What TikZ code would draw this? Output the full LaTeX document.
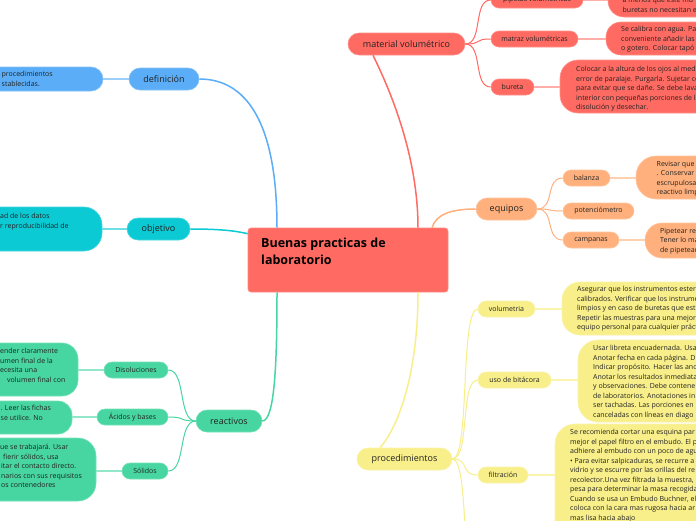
\documentclass[tikz,border=0pt]{standalone}
\usepackage{fontspec}
\setmainfont{Open Sans}
\definecolor{cred}{HTML}{FF6B63}
\definecolor{cblue}{HTML}{5AADF6}
\definecolor{cteal}{HTML}{0BCAD4}
\definecolor{cgreen}{HTML}{47D6A2}
\definecolor{cpeach}{HTML}{FFB07C}
\definecolor{cyel}{HTML}{F8EF8A}
\definecolor{txt}{HTML}{222222}
\tikzset{
  brn/.style={fill=#1, draw=#1!75!white, line width=0.6pt, rounded corners=11pt, minimum height=22pt, inner sep=0pt, font=\fontsize{9}{11}\selectfont, text=txt},
  sbn/.style={fill=#1, draw=#1!75!white, line width=0.6pt, rounded corners=8pt, minimum height=16pt, inner sep=0pt, font=\fontsize{7}{8}\selectfont, text=txt},
  lfn/.style={fill=#1, draw=#1!75!white, line width=0.6pt, inner sep=0pt},
  ltx/.style={anchor=north west, inner sep=0pt, align=left, font=\fontsize{7}{9.5}\selectfont, text=txt},
  mainc/.style={line width=1.5pt},
  subc/.style={line width=1pt},
  leafc/.style={line width=2pt},
}
\begin{document}
\begin{tikzpicture}[x=1pt,y=-1pt]
\useasboundingbox (0,0) rectangle (696,520);
\fill[white] (0,0) rectangle (696,520);
\clip (0,0) rectangle (696,520);

% central
\node[fill=cred, draw=cred!80!white, line width=0.6pt, rounded corners=3pt, minimum width=200pt, minimum height=64pt, inner sep=0pt] (ctr) at (348,260) {};
\node[anchor=north west, inner sep=0pt, align=left, font=\bfseries\fontsize{12.5}{17}\selectfont, text=black] (ttl) at (261,237.5) {Buenas practicas de\\laboratorio};

% branches
\node[brn=cblue, minimum width=70pt] (def) at (164,79) {definición};
\node[brn=cteal, minimum width=63pt] (obj) at (158.5,229) {objetivo};
\node[brn=cgreen, minimum width=66pt] (rea) at (229,421) {reactivos};
\node[sbn=cgreen, minimum width=64pt] (dis) at (136,370) {Disoluciones};
\node[sbn=cgreen, minimum width=71pt] (aci) at (132.5,417) {Ácidos y bases};
\node[sbn=cgreen, minimum width=46pt] (sol) at (145,471) {Sólidos};
\node[brn=cred, minimum width=117pt] (mat) at (406.5,44) {material volumétrico};
\node[sbn=cred, minimum width=92pt] (pip) at (537,0) {pipetas volumétricas};
\node[sbn=cred, minimum width=87pt] (mtz) at (534.5,39) {matraz volumétricas};
\node[sbn=cred, minimum width=43pt] (bur) at (512.5,87) {bureta};
\node[brn=cpeach, minimum width=61pt] (equ) at (506.5,209) {equipos};
\node[sbn=cpeach, minimum width=47pt] (bal) at (586.5,178) {balanza};
\node[sbn=cpeach, minimum width=71pt] (pot) at (598.5,211) {potenciómetro};
\node[sbn=cpeach, minimum width=56pt] (cam) at (591,240) {campanas};
\node[brn=cyel, minimum width=95pt] (pro) at (404.5,459) {procedimientos};
\node[sbn=cyel, minimum width=57pt] (vol) at (506.5,309) {volumetria};
\node[sbn=cyel, minimum width=73pt] (bit) at (514.5,380) {uso de bitácora};
\node[sbn=cyel, minimum width=50pt] (fil) at (503,475) {filtración};
\coordinate (proX) at (478,600);

% leaves
\node[lfn=cblue, rounded corners=12pt, minimum width=123pt, minimum height=24pt] (defL) at (41.5,79) {};
\node[ltx] (defT) at (1.5,71) {procedimientos\\stablecidas.};
\node[lfn=cteal, rounded corners=18pt, minimum width=122pt, minimum height=44pt] (objL) at (41,229) {};
\node[ltx] (objT) at (0,213) {ad de los datos\\r reproducibilidad de};
\node[lfn=cgreen, rounded corners=16pt, minimum width=98pt, minimum height=53pt] (disL) at (29,369.5) {};
\node[ltx] (disT) at (0,348) {ender claramente\\umen final de la\\ecesita una\\\hspace*{7pt}volumen final con};
\node[lfn=cgreen, rounded corners=14pt, minimum width=92pt, minimum height=33pt] (aciL) at (26,417.5) {};
\node[ltx] (aciT) at (0.5,405) {. Leer las fichas\\se utilice. No};
\node[lfn=cgreen, rounded corners=18pt, minimum width=116pt, minimum height=63pt] (solL) at (38,469.5) {};
\node[ltx] (solT) at (0,444) {ue se trabajará. Usar\\\hspace*{3pt}fierir sólidos, usa\\\hspace*{1pt}itar el contacto directo.\\\hspace*{1pt}narios con sus requisitos\\\hspace*{1pt}os contenedores};

\node[lfn=cred, rounded corners=16pt, minimum width=122pt, minimum height=47pt] (pipL) at (669,-6.5) {};
\node[ltx] (pipT) at (622.5,-2) {a menos que este mu\\buretas no necesitan e};
\node[lfn=cred, rounded corners=15pt, minimum width=124pt, minimum height=33pt] (mtzL) at (668,38.5) {};
\node[ltx] (mtzT) at (621,26) {Se calibra con agua. Pa\\conveniente añadir las\\o gotero. Colocar tapó};
\node[lfn=cred, rounded corners=18pt, minimum width=170pt, minimum height=53pt] (burL) at (645,86.5) {};
\node[ltx] (burT) at (576,66) {Colocar a la altura de los ojos al medi\\error de paralaje. Purgarla. Sujetar co\\para evitar que se dañe. Se debe lava\\interior con pequeñas porciones de la\\disolución y desechar.};

\node[lfn=cpeach, rounded corners=20pt, minimum width=94pt, minimum height=43pt] (balL) at (683,177.5) {};
\node[ltx] (balT) at (656.5,161) {Revisar que\\. Conservar\\escrupulosa\\reactivo limp};
\node[lfn=cpeach, rounded corners=17pt, minimum width=85pt, minimum height=35pt] (camL) at (687.5,240.5) {};
\node[ltx] (camT) at (660,228) {Pipetear re\\Tener lo ma\\de pipetear};

\node[lfn=cyel, rounded corners=18pt, minimum width=168pt, minimum height=53pt] (volL) at (646,308.5) {};
\node[ltx] (volT) at (577,286) {Asegurar que los instrumentos ester\\calibrados. Verificar que los instrume\\limpios y en caso de buretas que est\\Repetir las muestras para una mejor\\equipo personal para cualquier práct};
\node[lfn=cyel, rounded corners=20pt, minimum width=152pt, minimum height=82pt] (bitL) at (654,381) {};
\node[ltx] (bitT) at (593,345) {Usar libreta encuadernada. Usa\\Anotar fecha en cada página. D\\Indicar propósito. Hacer las ano\\Anotar los resultados inmediata\\y observaciones. Debe contene\\de laboratorios. Anotaciones in\\ser tachadas. Las porciones en\\canceladas con líneas en diago};
\node[lfn=cyel, rounded corners=20pt, minimum width=175pt, minimum height=121pt] (filL) at (642.5,484.5) {};
\node[ltx] (filT) at (570,429) {Se recomienda cortar una esquina par\\mejor el papel filtro en el embudo. El p\\adhiere al embudo con un poco de agu\\• Para evitar salpicaduras, se recurre a\\vidrio y se escurre por las orillas del re\\recolector.Una vez filtrada la muestra,\\pesa para determinar la masa recogida\\Cuando se usa un Embudo Buchner, el\\coloca con la cara mas rugosa hacia ar\\mas lisa hacia abajo};

% main connectors
\draw[mainc,cblue] ([xshift=-71pt]ctr.north) .. controls (277,120) and (245,79) .. (def.east);
\draw[mainc,cteal] (obj.east) .. controls (222,229) and (236,231) .. ([yshift=-6pt]ctr.north west);
\draw[mainc,cgreen] (rea.east) .. controls (275,421) and (277,360) .. ([xshift=-71pt]ctr.south);
\draw[mainc,cred] ([xshift=-33.5pt]mat.south) .. controls (400,110) and (418,170) .. ([xshift=70pt]ctr.north);
\draw[mainc,cpeach] ([xshift=84pt]ctr.north) .. controls (436,214) and (452,209) .. (equ.west);
\draw[mainc,cyel] ([xshift=70pt]ctr.south) .. controls (418,370) and (400,425) .. ([xshift=-24.5pt]pro.north);

% sub connectors
\foreach \c in {pip,mtz,bur} \draw[subc,cred] (mat.east) .. controls +(18,0) and +(-18,0) .. (\c.west);
\foreach \c in {bal,pot,cam} \draw[subc,cpeach] (equ.east) .. controls +(18,0) and +(-18,0) .. (\c.west);
\foreach \c in {vol,bit,fil} \draw[subc,cyel] (pro.east) .. controls +(18,0) and +(-18,0) .. (\c.west);
\draw[subc,cyel] (pro.east) .. controls +(18,0) and +(-18,0) .. (proX);
\foreach \c in {dis,aci,sol} \draw[subc,cgreen] (rea.west) .. controls +(-18,0) and +(18,0) .. (\c.east);

% leaf connectors
\draw[leafc,cblue!60!white] (def.west) -- (def.west -| defL.east);
\draw[leafc,cteal!60!white] (obj.west) -- (obj.west -| objL.east);
\draw[leafc,cgreen!60!white] (dis.west) -- (dis.west -| disL.east);
\draw[leafc,cgreen!60!white] (aci.west) -- (aci.west -| aciL.east);
\draw[leafc,cgreen!60!white] (sol.west) -- (sol.west -| solL.east);
\draw[leafc,cred!55!white] (pip.east) -- (pip.east -| pipL.west);
\draw[leafc,cred!55!white] (mtz.east) -- (mtz.east -| mtzL.west);
\draw[leafc,cred!55!white] (bur.east) -- (bur.east -| burL.west);
\draw[leafc,cpeach!60!white] (bal.east) -- (bal.east -| balL.west);
\draw[leafc,cpeach!60!white] (cam.east) -- (cam.east -| camL.west);
\draw[leafc,cyel!70!white] (vol.east) -- (vol.east -| volL.west);
\draw[leafc,cyel!70!white] (bit.east) -- (bit.east -| bitL.west);
\draw[leafc,cyel!70!white] (fil.east) -- (fil.east -| filL.west);
\end{tikzpicture}
\end{document}
